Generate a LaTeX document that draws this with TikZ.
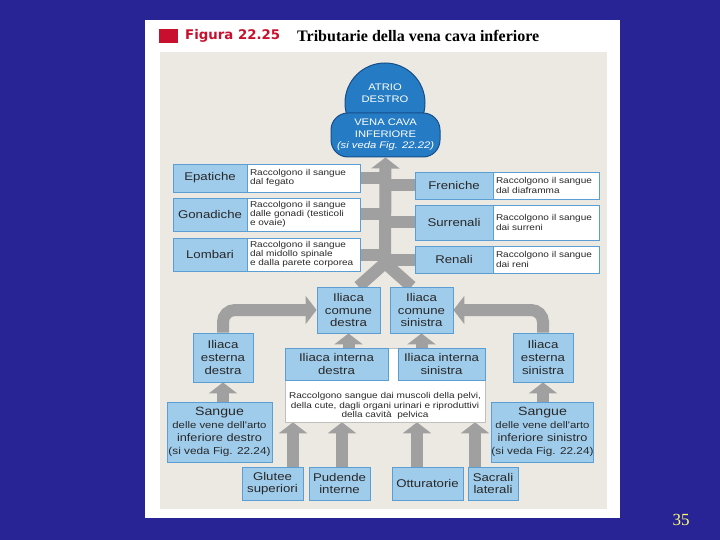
\documentclass[tikz,border=0pt]{standalone}
\usepackage{fontspec}
\setmainfont{Liberation Sans}
\newfontfamily\wsans[FakeStretch=1.18]{Liberation Sans}
\newfontfamily\titlesans{DejaVu Sans}
\newfontfamily\titleserif{Liberation Serif}
\usetikzlibrary{arrows.meta,calc}
\pgfdeclarelayer{back}
\pgfdeclarelayer{bars}
\pgfsetlayers{back,bars,main}
\definecolor{slideblue}{RGB}{40,36,150}
\definecolor{panelgray}{RGB}{236,233,226}
\definecolor{lblue}{RGB}{160,204,235}
\definecolor{lblueborder}{RGB}{90,158,212}
\definecolor{dblue}{RGB}{38,124,196}
\definecolor{dblueborder}{RGB}{22,78,138}
\definecolor{arrowgray}{RGB}{160,160,160}
\definecolor{figred}{RGB}{200,16,46}
\definecolor{pageyellow}{RGB}{255,255,110}
\definecolor{txt}{RGB}{40,40,40}
\tikzset{
  lbox/.style={draw=lblueborder, fill=lblue, line width=0.9pt, inner sep=0pt, align=center,
    font=\wsans\fontsize{11.2}{12.6}\selectfont, text=txt},
  dbox/.style={draw=lblueborder, fill=white, line width=0.9pt, inner ysep=0pt, inner xsep=3pt, align=left,
    font=\wsans\fontsize{8.5}{9.2}\selectfont, text=txt},
  gbar/.style={draw=arrowgray, line width=12pt},
  garrow/.style={draw=arrowgray, line width=12pt, -{Triangle[length=11pt,width=28pt]}},
}
\begin{document}
\begin{tikzpicture}[x=1pt,y=-1pt]
\useasboundingbox (0,0) rectangle (720,540);
\begin{pgfonlayer}{back}
\fill[slideblue] (0,0) rectangle (720,540);
\fill[white] (145,20) rectangle (620,518);
\fill[panelgray] (160,52) rectangle (607,509);
\fill[figred] (159,29) rectangle (178,43);
\end{pgfonlayer}

% title
\node[anchor=west, inner sep=0pt, font=\titlesans\bfseries\fontsize{13.3}{15}\selectfont, text=figred] (fig) at (185,36) {Figura 22.25};
\node[anchor=west, inner sep=0pt, font=\titleserif\bfseries\fontsize{16}{18}\selectfont, text=black] (ttl) at (297,36) {Tributarie della vena cava inferiore};

% heart / vena cava
\node[circle, draw=dblueborder, fill=dblue, line width=1pt, minimum size=80pt, inner sep=0pt] (atr) at (385,103) {};
\node[font=\wsans\fontsize{9.5}{11.5}\selectfont, text=white, align=center, inner sep=0pt] (atrt) at (385,93) {ATRIO\\DESTRO};
\node[draw=dblueborder, fill=dblue, line width=1pt, rounded corners=17pt, minimum width=109pt, minimum height=44pt, inner sep=0pt,
  font=\wsans\fontsize{9.5}{11.5}\selectfont, text=white, align=center] (vc) at (385.5,135) {VENA CAVA\\INFERIORE\\\textit{(si veda Fig. 22.22)}};

% left tributaries
\node[lbox, minimum width=74pt, minimum height=28pt] (epL) at (210,178) {Epatiche};
\node[dbox, text width=107pt, minimum height=28pt] (epR) at (303.5,178) {Raccolgono il sangue\\dal fegato};
\node[lbox, minimum width=74pt, minimum height=33pt] (goL) at (210,214.5) {Gonadiche};
\node[dbox, text width=107pt, minimum height=33pt] (goR) at (303.5,214.5) {Raccolgono il sangue\\dalle gonadi (testicoli\\e ovaie)};
\node[lbox, minimum width=74pt, minimum height=33pt] (loL) at (210,254.5) {Lombari};
\node[dbox, text width=107pt, minimum height=33pt] (loR) at (303.5,254.5) {Raccolgono il sangue\\dal midollo spinale\\e dalla parete corporea};

% right tributaries
\node[lbox, minimum width=78pt, minimum height=27pt] (frL) at (454,185.5) {Freniche};
\node[dbox, text width=100pt, minimum height=27pt] (frR) at (546,185.5) {Raccolgono il sangue\\dal diaframma};
\node[lbox, minimum width=78pt, minimum height=35pt] (suL) at (454,222.5) {Surrenali};
\node[dbox, text width=100pt, minimum height=35pt] (suR) at (546,222.5) {Raccolgono il sangue\\dai surreni};
\node[lbox, minimum width=78pt, minimum height=27pt] (reL) at (454,259.5) {Renali};
\node[dbox, text width=100pt, minimum height=27pt] (reR) at (546,259.5) {Raccolgono il sangue\\dai reni};

% iliac veins
\node[lbox, minimum width=63pt, minimum height=46pt] (icd) at (348.5,310) {Iliaca\\comune\\destra};
\node[lbox, minimum width=63pt, minimum height=46pt] (ics) at (421.5,310) {Iliaca\\comune\\sinistra};
\node[lbox, minimum width=60pt, minimum height=49pt] (ied) at (223,357.5) {Iliaca\\esterna\\destra};
\node[lbox, minimum width=60pt, minimum height=49pt] (ies) at (543,357.5) {Iliaca\\esterna\\sinistra};

% pelvis box
\node[draw=black!25, fill=white, line width=0.6pt, minimum width=200pt, minimum height=74pt, inner sep=0pt] (pel) at (385,385) {};
\node[font=\wsans\fontsize{8.5}{9.6}\selectfont, text=txt, align=center, inner sep=0pt] (pelt) at (385,406) {Raccolgono sangue dai muscoli della pelvi,\\della cute, dagli organi urinari e riproduttivi\\della cavità\ \ pelvica};
\node[lbox, minimum width=103pt, minimum height=32pt] (iid) at (336.5,364) {Iliaca interna\\destra};
\node[lbox, minimum width=87pt, minimum height=32pt] (iis) at (441.5,364) {Iliaca interna\\sinistra};

% lower limb blood
\node[lbox, minimum width=105pt, minimum height=60pt, font=\wsans\fontsize{10.8}{12.8}\selectfont] (sd) at (219.5,432)
  {{\fontsize{12}{12.8}\selectfont Sangue}\\{\fontsize{9.6}{12.8}\selectfont delle vene dell'arto}\\inferiore destro\\{\fontsize{10}{12.8}\selectfont (si veda Fig. 22.24)}};
\node[lbox, minimum width=101pt, minimum height=60pt, font=\wsans\fontsize{10.8}{12.8}\selectfont] (ss) at (542.5,432)
  {{\fontsize{12}{12.8}\selectfont Sangue}\\{\fontsize{9.6}{12.8}\selectfont delle vene dell'arto}\\inferiore sinistro\\{\fontsize{10}{12.8}\selectfont (si veda Fig. 22.24)}};

% bottom tributaries
\node[lbox, minimum width=61pt, minimum height=33pt] (glu) at (272.5,483.5) {Glutee\\superiori};
\node[lbox, minimum width=61pt, minimum height=33pt] (pud) at (339.5,483.5) {Pudende\\interne};
\node[lbox, minimum width=71pt, minimum height=33pt] (ott) at (427.5,483.5) {Otturatorie};
\node[lbox, minimum width=50pt, minimum height=33pt] (sac) at (493,483.5) {Sacrali\\laterali};

% page number
\node[font=\titleserif\fontsize{17}{19}\selectfont, text=pageyellow, inner sep=0pt] (pg) at (681,520) {35};

% connectors
\coordinate (tj) at (385,263);
\coordinate (bl) at ($(icd.north)+(10,0)$);
\coordinate (br) at ($(ics.north)+(-10,0)$);
\coordinate (g1) at ($(glu.north)+(20.5,0)$);
\coordinate (g2) at ($(pud.north)+(2.5,0)$);
\coordinate (g3) at ($(ott.north)+(-10.5,0)$);
\coordinate (g4) at ($(sac.north)+(-18,0)$);
\coordinate (ia1) at (icd.south |- iid.north);
\coordinate (ia2) at (ics.south |- iis.north);
\begin{pgfonlayer}{bars}
\draw[gbar, line join=round] (bl) -- (tj) -- (br);
\draw[garrow] ($(tj)+(0,3)$) -- (vc.south);
\draw[gbar] (epR.east) -- (epR.east -| tj);
\draw[gbar] (goR.east) -- (goR.east -| tj);
\draw[gbar] (loR.east) -- (loR.east -| tj);
\draw[gbar] (frL.west) -- (frL.west -| tj);
\draw[gbar] (suL.west) -- (suL.west -| tj);
\draw[gbar] (reL.west) -- (reL.west -| tj);
\draw[garrow, rounded corners=12pt] (ied.north) |- (icd.west);
\draw[garrow, rounded corners=12pt] (ies.north) |- (ics.east);
\draw[garrow] (ia1) -- (icd.south);
\draw[garrow] (ia2) -- (ics.south);
\draw[garrow] (sd.north -| ied.south) -- (ied.south);
\draw[garrow] (ss.north -| ies.south) -- (ies.south);
\draw[garrow] (g1) -- (g1 |- pel.south);
\draw[garrow] (g2) -- (g2 |- pel.south);
\draw[garrow] (g3) -- (g3 |- pel.south);
\draw[garrow] (g4) -- (g4 |- pel.south);
\end{pgfonlayer}
\end{tikzpicture}
\end{document}
